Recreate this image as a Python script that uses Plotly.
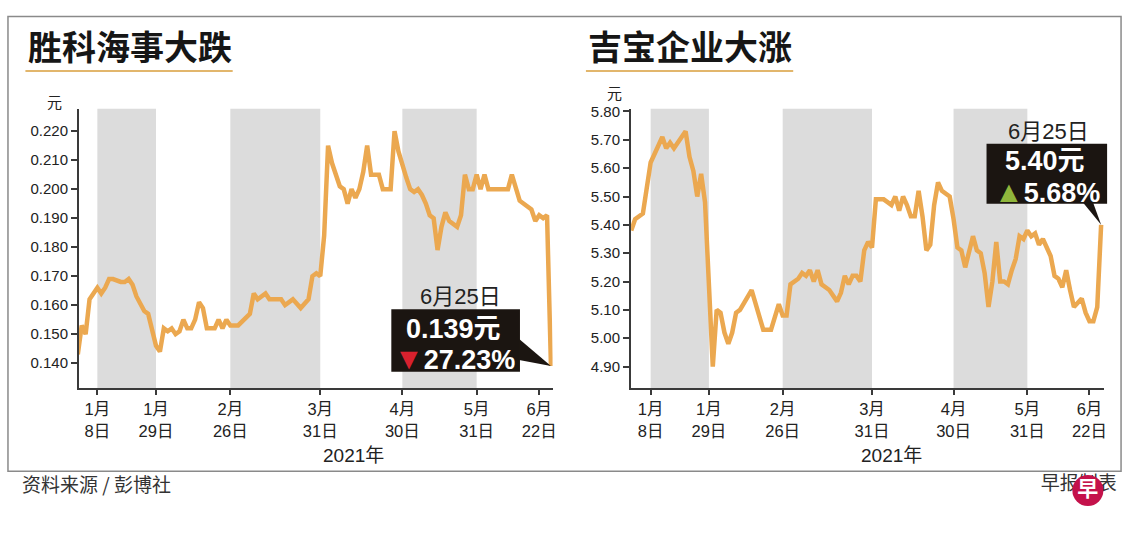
import plotly.graph_objects as go

W, H = 1140, 536

# 胜科海事 closing prices (元)
sembmar_dates = [
    "2020-12-31", "2021-01-04", "2021-01-05", "2021-01-06", "2021-01-07", "2021-01-08",
    "2021-01-11", "2021-01-12", "2021-01-13", "2021-01-14", "2021-01-18", "2021-01-19",
    "2021-01-20", "2021-01-21", "2021-01-22", "2021-01-26", "2021-01-27", "2021-01-28",
    "2021-01-29", "2021-02-01", "2021-02-02", "2021-02-03", "2021-02-04", "2021-02-05",
    "2021-02-08", "2021-02-09", "2021-02-10", "2021-02-11", "2021-02-15", "2021-02-16",
    "2021-02-17", "2021-02-18", "2021-02-22", "2021-02-23", "2021-02-24", "2021-02-25",
    "2021-02-26", "2021-03-02", "2021-03-04", "2021-03-05", "2021-03-08", "2021-03-09",
    "2021-03-11", "2021-03-12", "2021-03-17", "2021-03-18", "2021-03-22", "2021-03-24",
    "2021-03-26", "2021-03-29", "2021-03-30", "2021-03-31", "2021-04-01", "2021-04-05",
    "2021-04-06", "2021-04-08", "2021-04-09", "2021-04-12", "2021-04-13", "2021-04-14",
    "2021-04-15", "2021-04-16", "2021-04-19", "2021-04-20", "2021-04-22", "2021-04-23",
    "2021-04-27", "2021-04-28", "2021-04-29", "2021-04-30", "2021-05-03", "2021-05-04",
    "2021-05-05", "2021-05-06", "2021-05-07", "2021-05-10", "2021-05-11", "2021-05-12",
    "2021-05-14", "2021-05-17", "2021-05-18", "2021-05-19", "2021-05-20", "2021-05-21",
    "2021-05-24", "2021-05-25", "2021-05-27", "2021-05-28", "2021-05-31", "2021-06-01",
    "2021-06-02", "2021-06-03", "2021-06-10", "2021-06-11", "2021-06-15", "2021-06-17",
    "2021-06-18", "2021-06-21", "2021-06-22", "2021-06-23", "2021-06-24", "2021-06-25",
]
sembmar_prices = [
    0.143, 0.153, 0.150, 0.162, 0.164, 0.166,
    0.164, 0.166, 0.169, 0.169, 0.168, 0.168,
    0.169, 0.167, 0.163, 0.158, 0.157, 0.152,
    0.146, 0.144, 0.152, 0.151, 0.152, 0.150,
    0.151, 0.155, 0.152, 0.152, 0.155, 0.161,
    0.159, 0.152, 0.152, 0.155, 0.152, 0.155,
    0.153, 0.153, 0.156, 0.157, 0.164, 0.162,
    0.164, 0.162, 0.162, 0.160, 0.162, 0.159,
    0.162, 0.170, 0.171, 0.170, 0.184, 0.215,
    0.209, 0.201, 0.200, 0.195, 0.200, 0.197,
    0.200, 0.206, 0.215, 0.205, 0.205, 0.200,
    0.200, 0.220, 0.213, 0.208, 0.204, 0.200,
    0.199, 0.200, 0.198, 0.195, 0.191, 0.190,
    0.179, 0.187, 0.192, 0.189, 0.188, 0.187,
    0.191, 0.205, 0.200, 0.200, 0.205, 0.200,
    0.205, 0.200, 0.200, 0.205, 0.196, 0.194,
    0.193, 0.189, 0.191, 0.190, 0.191, 0.139,
]

# 吉宝企业 closing prices (元)
keppel_dates = [
    "2020-12-31", "2021-01-04", "2021-01-06", "2021-01-07", "2021-01-08", "2021-01-11",
    "2021-01-13", "2021-01-14", "2021-01-15", "2021-01-18", "2021-01-19", "2021-01-21",
    "2021-01-22", "2021-01-25", "2021-01-26", "2021-01-27", "2021-01-28", "2021-01-29",
    "2021-02-01", "2021-02-02", "2021-02-03", "2021-02-04", "2021-02-05", "2021-02-08",
    "2021-02-09", "2021-02-10", "2021-02-16", "2021-02-19", "2021-02-23", "2021-02-25",
    "2021-02-26", "2021-03-01", "2021-03-02", "2021-03-04", "2021-03-05", "2021-03-08",
    "2021-03-09", "2021-03-10", "2021-03-11", "2021-03-12", "2021-03-16", "2021-03-18",
    "2021-03-19", "2021-03-22", "2021-03-23", "2021-03-24", "2021-03-25", "2021-03-26",
    "2021-03-29", "2021-03-30", "2021-03-31", "2021-04-01", "2021-04-05", "2021-04-06",
    "2021-04-07", "2021-04-08", "2021-04-09", "2021-04-12", "2021-04-13", "2021-04-14",
    "2021-04-15", "2021-04-16", "2021-04-19", "2021-04-20", "2021-04-21", "2021-04-22",
    "2021-04-23", "2021-04-26", "2021-04-27", "2021-04-28", "2021-04-29", "2021-04-30",
    "2021-05-03", "2021-05-04", "2021-05-05", "2021-05-07", "2021-05-10", "2021-05-11",
    "2021-05-12", "2021-05-14", "2021-05-17", "2021-05-18", "2021-05-19", "2021-05-20",
    "2021-05-21", "2021-05-24", "2021-05-25", "2021-05-27", "2021-05-28", "2021-05-31",
    "2021-06-01", "2021-06-02", "2021-06-03", "2021-06-04", "2021-06-08", "2021-06-09",
    "2021-06-10", "2021-06-11", "2021-06-14", "2021-06-15", "2021-06-16", "2021-06-18",
    "2021-06-21", "2021-06-22", "2021-06-23", "2021-06-24", "2021-06-25",
]
keppel_prices = [
    5.38, 5.42, 5.44, 5.53, 5.62, 5.65,
    5.71, 5.67, 5.69, 5.67, 5.69, 5.73,
    5.64, 5.59, 5.50, 5.58, 5.48, 5.17,
    4.90, 5.10, 5.09, 5.02, 4.98, 5.02,
    5.09, 5.10, 5.17, 5.03, 5.03, 5.12,
    5.08, 5.08, 5.19, 5.21, 5.23, 5.22,
    5.24, 5.20, 5.24, 5.19, 5.17, 5.13,
    5.16, 5.22, 5.19, 5.22, 5.22, 5.20,
    5.31, 5.34, 5.32, 5.49, 5.49, 5.49,
    5.48, 5.47, 5.50, 5.45, 5.50, 5.47,
    5.43, 5.43, 5.52, 5.43, 5.31, 5.33,
    5.47, 5.55, 5.52, 5.51, 5.50, 5.42,
    5.32, 5.31, 5.25, 5.36, 5.31, 5.30,
    5.23, 5.11, 5.20, 5.34, 5.20, 5.20,
    5.19, 5.24, 5.28, 5.36, 5.35, 5.38,
    5.36, 5.37, 5.33, 5.35, 5.29, 5.22,
    5.21, 5.18, 5.24, 5.17, 5.11, 5.14,
    5.09, 5.06, 5.06, 5.11, 5.40,
]

tick_dates = ["2021-01-08", "2021-01-29", "2021-02-26", "2021-03-31",
              "2021-04-30", "2021-05-31", "2021-06-22"]
tick_labels = ["1月<br>8日", "1月<br>29日", "2月<br>26日", "3月<br>31日",
               "4月<br>30日", "5月<br>31日", "6月<br>22日"]

band_starts = ["2021-01-08", "2021-02-26", "2021-04-30"]
band_ends = ["2021-01-29", "2021-03-31", "2021-05-31"]

# SGX market holidays in the period
holidays = ["2021-01-01", "2021-02-12", "2021-04-02", "2021-05-13", "2021-05-26"]

sembmar_ticks = [0.14, 0.15, 0.16, 0.17, 0.18, 0.19, 0.20, 0.21, 0.22]
keppel_ticks = [4.9, 5.0, 5.1, 5.2, 5.3, 5.4, 5.5, 5.6, 5.7, 5.8]

LINE = "#eba850"
BAND = "#dcdcdc"
AXIS = "#3a3a3a"
TEXT = "#222222"
BOX = "#1b1511"
GOLD = "#e2b66c"
FONT = "Liberation Sans, Noto Sans CJK SC, sans-serif"
CJK = "Noto Sans CJK SC, sans-serif"


def px(x):
    return x / W


def py(y):
    return 1 - y / H


def xaxis_cfg(x0, x1, rng, anchor):
    return dict(
        domain=[px(x0), px(x1)], type="date", range=rng, anchor=anchor,
        rangebreaks=[dict(bounds=["sat", "mon"]), dict(values=holidays)],
        tickmode="array", tickvals=tick_dates, ticktext=tick_labels,
        ticks="outside", ticklen=5, tickwidth=1.5, tickcolor=AXIS,
        showline=True, linecolor=AXIS, linewidth=2,
        showgrid=False, zeroline=False, fixedrange=True,
        tickfont=dict(family=FONT, size=16.5, color=TEXT),
    )


def yaxis_cfg(rng, ticks, fmt, anchor):
    return dict(
        domain=[py(386.7), py(104)], range=rng, anchor=anchor,
        tickmode="array", tickvals=ticks, tickformat=fmt,
        ticks="outside", ticklen=6, tickwidth=1.5, tickcolor=AXIS,
        showline=True, linecolor=AXIS, linewidth=2,
        showgrid=False, zeroline=False, fixedrange=True,
        tickfont=dict(family=FONT, size=15, color=TEXT),
    )


fig = go.Figure()

fig.add_trace(go.Scatter(x=sembmar_dates, y=sembmar_prices, mode="lines",
                         line=dict(color=LINE, width=4.5), xaxis="x", yaxis="y",
                         hoverinfo="skip"))
fig.add_trace(go.Scatter(x=keppel_dates, y=keppel_prices, mode="lines",
                         line=dict(color=LINE, width=4.5), xaxis="x2", yaxis="y2",
                         hoverinfo="skip"))

# logo corner: text first, red badge drawn over it
fig.add_trace(go.Scatter(x=[1082.5], y=[485], mode="text", text=["早报制表"],
                         textfont=dict(family=CJK, size=19, color="#333333"),
                         xaxis="x3", yaxis="y3", cliponaxis=False, hoverinfo="skip"))
fig.add_trace(go.Scatter(x=[1091.7], y=[490], mode="markers+text", text=["<b>早</b>"],
                         marker=dict(size=31, color="#c4124b", line=dict(width=0)),
                         textposition="middle center",
                         textfont=dict(family=CJK, size=21, color="white"),
                         xaxis="x3", yaxis="y3", cliponaxis=False, hoverinfo="skip"))

shapes = []
for xr in ["x", "x2"]:
    for s, e in zip(band_starts, band_ends):
        shapes.append(dict(type="rect", xref=xr, yref=xr.replace("x", "y") + " domain",
                           x0=s, x1=e, y0=0, y1=1, fillcolor=BAND,
                           line=dict(width=0), layer="below"))

# outer frame
shapes.append(dict(type="rect", xref="paper", yref="paper",
                   x0=px(8), x1=px(1125), y0=py(470.5), y1=py(10.5),
                   line=dict(color="#8a8a8a", width=1.5)))
# title underlines
for a, b in [(25.5, 233.5), (588, 796)]:
    shapes.append(dict(type="line", xref="paper", yref="paper",
                       x0=px(a), x1=px(b), y0=py(65.7), y1=py(65.7),
                       line=dict(color=GOLD, width=2)))

# callout boxes and pointers
shapes.append(dict(type="rect", xref="paper", yref="paper", layer="above",
                   x0=px(392.7), x1=px(521.8), y0=py(370), y1=py(306.7),
                   fillcolor=BOX, line=dict(width=0)))
shapes.append(dict(type="path", xref="paper", yref="paper", layer="above",
                   path=f"M {px(521)},{py(336.7)} L {px(552.9)},{py(364.2)} L {px(521)},{py(358)} Z",
                   fillcolor=BOX, line=dict(width=0)))
shapes.append(dict(type="rect", xref="paper", yref="paper", layer="above",
                   x0=px(990), x1=px(1111), y0=py(200), y1=py(139.3),
                   fillcolor=BOX, line=dict(width=0)))
shapes.append(dict(type="path", xref="paper", yref="paper", layer="above",
                   path=f"M {px(1087)},{py(199)} L {px(1097)},{py(199)} L {px(1105)},{py(221.3)} Z",
                   fillcolor=BOX, line=dict(width=0)))


def note(x, y, text, size, color=TEXT, family=FONT, xanchor="center"):
    return dict(x=px(x), y=py(y), xref="paper", yref="paper", text=text,
                showarrow=False, xanchor=xanchor, yanchor="middle",
                font=dict(family=family, size=size, color=color))


annotations = [
    note(26, 39.5, "<b>胜科海事大跌</b>", 34, "#161616", CJK, "left"),
    note(588, 39.5, "<b>吉宝企业大涨</b>", 34, "#161616", CJK, "left"),
    note(54.5, 96.7, "元", 15, family=CJK),
    note(616.5, 87.3, "元", 15, family=CJK),
    note(354.5, 454.3, "2021年", 19),
    note(894.7, 454.3, "2021年", 19),
    note(20, 483.3, "资料来源 / 彭博社", 19, "#333333", CJK, "left"),
    note(462.5, 293.3, "6月25日", 22),
    note(455, 326.7, "<b>0.139元</b>", 27, "white"),
    note(456, 356.7, "<span style='color:#d8212e;font-size:30px'>▼</span><b>27.23%</b>", 27, "white"),
    note(1051.8, 126.7, "6月25日", 22),
    note(1049, 156.7, "<b>5.40元</b>", 27, "white"),
    note(1051, 187.7, "<span style='color:#8fb63c;font-size:30px'>▲</span><b>5.68%</b>", 27, "white"),
]

fig.update_layout(
    width=W, height=H, margin=dict(l=0, r=0, t=0, b=0),
    paper_bgcolor="white", plot_bgcolor="rgba(0,0,0,0)", showlegend=False,
    xaxis=xaxis_cfg(79.3, 554.5, ["2020-12-31 07:26", "2021-06-25 09:50"], "y"),
    yaxis=yaxis_cfg([0.1313, 0.2277], sembmar_ticks, ".3f", "x"),
    xaxis2=xaxis_cfg(633.3, 1108.2, ["2020-12-30 23:02", "2021-06-25 19:41"], "y2"),
    yaxis2=yaxis_cfg([4.823, 5.8094], keppel_ticks, ".2f", "x2"),
    xaxis3=dict(domain=[px(1030), px(1130)], range=[1030, 1130], visible=False,
                fixedrange=True, anchor="y3"),
    yaxis3=dict(domain=[py(505), py(465)], range=[505, 465], visible=False,
                fixedrange=True, anchor="x3"),
    shapes=shapes, annotations=annotations,
)

# the page's default body margin would push the figure 8px off the window corner
fig.write_html("out.html", config={"displayModeBar": False},
               post_script="document.body.style.margin='0';")
